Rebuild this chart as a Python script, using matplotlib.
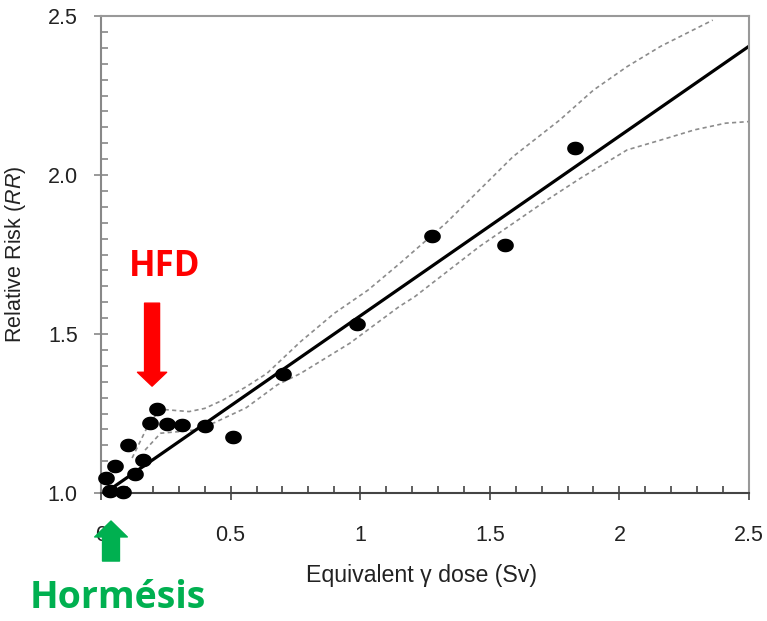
import numpy as np
import matplotlib
matplotlib.use("Agg")
import matplotlib.pyplot as plt
from matplotlib.path import Path
from matplotlib.ticker import MultipleLocator, FixedLocator

plt.rcParams['font.family'] = ['Liberation Sans', 'DejaVu Sans']
plt.rcParams['mathtext.fontset'] = 'custom'
plt.rcParams['mathtext.it'] = 'Liberation Sans:italic'
plt.rcParams['mathtext.rm'] = 'Liberation Sans'

# observed relative risk per dose group
dose = [0.019, 0.035, 0.054, 0.084, 0.105, 0.131, 0.161, 0.190, 0.216,
        0.256, 0.312, 0.403, 0.511, 0.701, 0.989, 1.278, 1.559, 1.829]
rr = [1.048, 1.006, 1.086, 1.002, 1.151, 1.059, 1.105, 1.221, 1.263,
      1.216, 1.214, 1.210, 1.175, 1.374, 1.531, 1.808, 1.780, 2.084]

# linear fit
fit_x = [0.015, 2.5]
fit_y = [1.0, 2.405]

# confidence bands
upper_x = [0.12, 0.18, 0.22, 0.25, 0.34, 0.40, 0.47, 0.56, 0.64, 0.77,
           0.90, 1.03, 1.15, 1.33, 1.59, 1.77, 1.90, 2.03, 2.16, 2.36]
upper_y = [1.11, 1.21, 1.255, 1.262, 1.256, 1.266, 1.292, 1.334, 1.376, 1.476,
           1.565, 1.638, 1.72, 1.848, 2.058, 2.173, 2.267, 2.341, 2.405, 2.487]
lower_x = [0.17, 0.23, 0.30, 0.36, 0.44, 0.56, 0.68, 0.77, 0.96, 1.15,
           1.21, 1.46, 1.72, 1.85, 2.03, 2.16, 2.29, 2.41, 2.5]
lower_y = [1.135, 1.188, 1.193, 1.198, 1.222, 1.268, 1.34, 1.376, 1.471, 1.586,
           1.617, 1.775, 1.921, 1.99, 2.079, 2.11, 2.142, 2.163, 2.168]

xticks = [0, 0.5, 1, 1.5, 2, 2.5]
xtick_labels = ['0', '0.5', '1', '1.5', '2', '2.5']
yticks = [1.0, 1.5, 2.0, 2.5]
ytick_labels = ['1.0', '1.5', '2.0', '2.5']

fig = plt.figure(figsize=(7.67, 6.21), dpi=100)
ax = fig.add_axes([101 / 767, 1 - 493 / 621, 648 / 767, 477 / 621])

# slightly flattened dot marker
t = np.linspace(0, 2 * np.pi, 40)
ell = Path(np.column_stack([np.cos(t), 0.8 * np.sin(t)]))

band_kw = dict(color='#8c8c8c', lw=1.2, dashes=(2.5, 2))
ax.plot(upper_x, upper_y, **band_kw)
ax.plot(lower_x, lower_y, **band_kw)
ax.plot(fit_x, fit_y, color='black', lw=2.3, solid_capstyle='butt')
ax.plot(dose, rr, linestyle='none', marker=ell, markersize=11,
        color='black', clip_on=False, zorder=5)

ax.set_xlim(0, 2.5)
ax.set_ylim(1.0, 2.5)
ax.xaxis.set_major_locator(FixedLocator(xticks))
ax.set_xticklabels(xtick_labels)
ax.yaxis.set_major_locator(FixedLocator(yticks))
ax.set_yticklabels(ytick_labels)
ax.xaxis.set_minor_locator(MultipleLocator(0.1))
ax.yaxis.set_minor_locator(MultipleLocator(0.05))

ax.tick_params(axis='x', which='major', direction='inout', length=9.5, width=1.2,
               color='#444444', labelsize=15.5, labelcolor='#222222', pad=18)
ax.tick_params(axis='x', which='minor', direction='in', length=5, width=1.2,
               color='#444444')
ax.tick_params(axis='y', which='major', direction='inout', length=9.5, width=1.2,
               color='#888888', labelsize=15.5, labelcolor='#222222', pad=12)
ax.tick_params(axis='y', which='minor', direction='in', length=5, width=1.2,
               color='#888888')

for side, col in [('left', '#888888'), ('bottom', '#444444'),
                  ('top', '#999999'), ('right', '#999999')]:
    ax.spines[side].set_color(col)
    ax.spines[side].set_linewidth(1.5)

ax.set_xlabel('Equivalent γ dose (Sv)', fontsize=16.7, color='#222222')
ax.xaxis.set_label_coords(0.494, -0.148)
ax.set_ylabel('Relative Risk ($RR$)', fontsize=15.5, color='#222222')
ax.yaxis.set_label_coords(-0.112, 0.5)

# annotations
ax.text(0.247, 1.71, 'HFD', color='#ff0000', fontsize=25, fontweight='bold',
        family='Open Sans', ha='center', va='center')
ax.annotate('', xy=(0.197, 1.336), xytext=(0.197, 1.597),
            arrowprops=dict(arrowstyle='simple,head_width=21,head_length=10,tail_width=10.8',
                            mutation_scale=1, color='#ff0000', shrinkA=0, shrinkB=0))
ax.annotate('', xy=(0.0386, 0.912), xytext=(0.0386, 0.786),
            annotation_clip=False,
            arrowprops=dict(arrowstyle='simple,head_width=23.5,head_length=11.5,tail_width=12.2',
                            mutation_scale=1, color='#00b050', shrinkA=0, shrinkB=0,
                            clip_on=False))
ax.text(0.066, 0.67, 'Hormésis', color='#00b050', fontsize=27, fontweight='bold',
        family='Open Sans', ha='center', va='center', clip_on=False)

fig.savefig('out.png', dpi=100)
